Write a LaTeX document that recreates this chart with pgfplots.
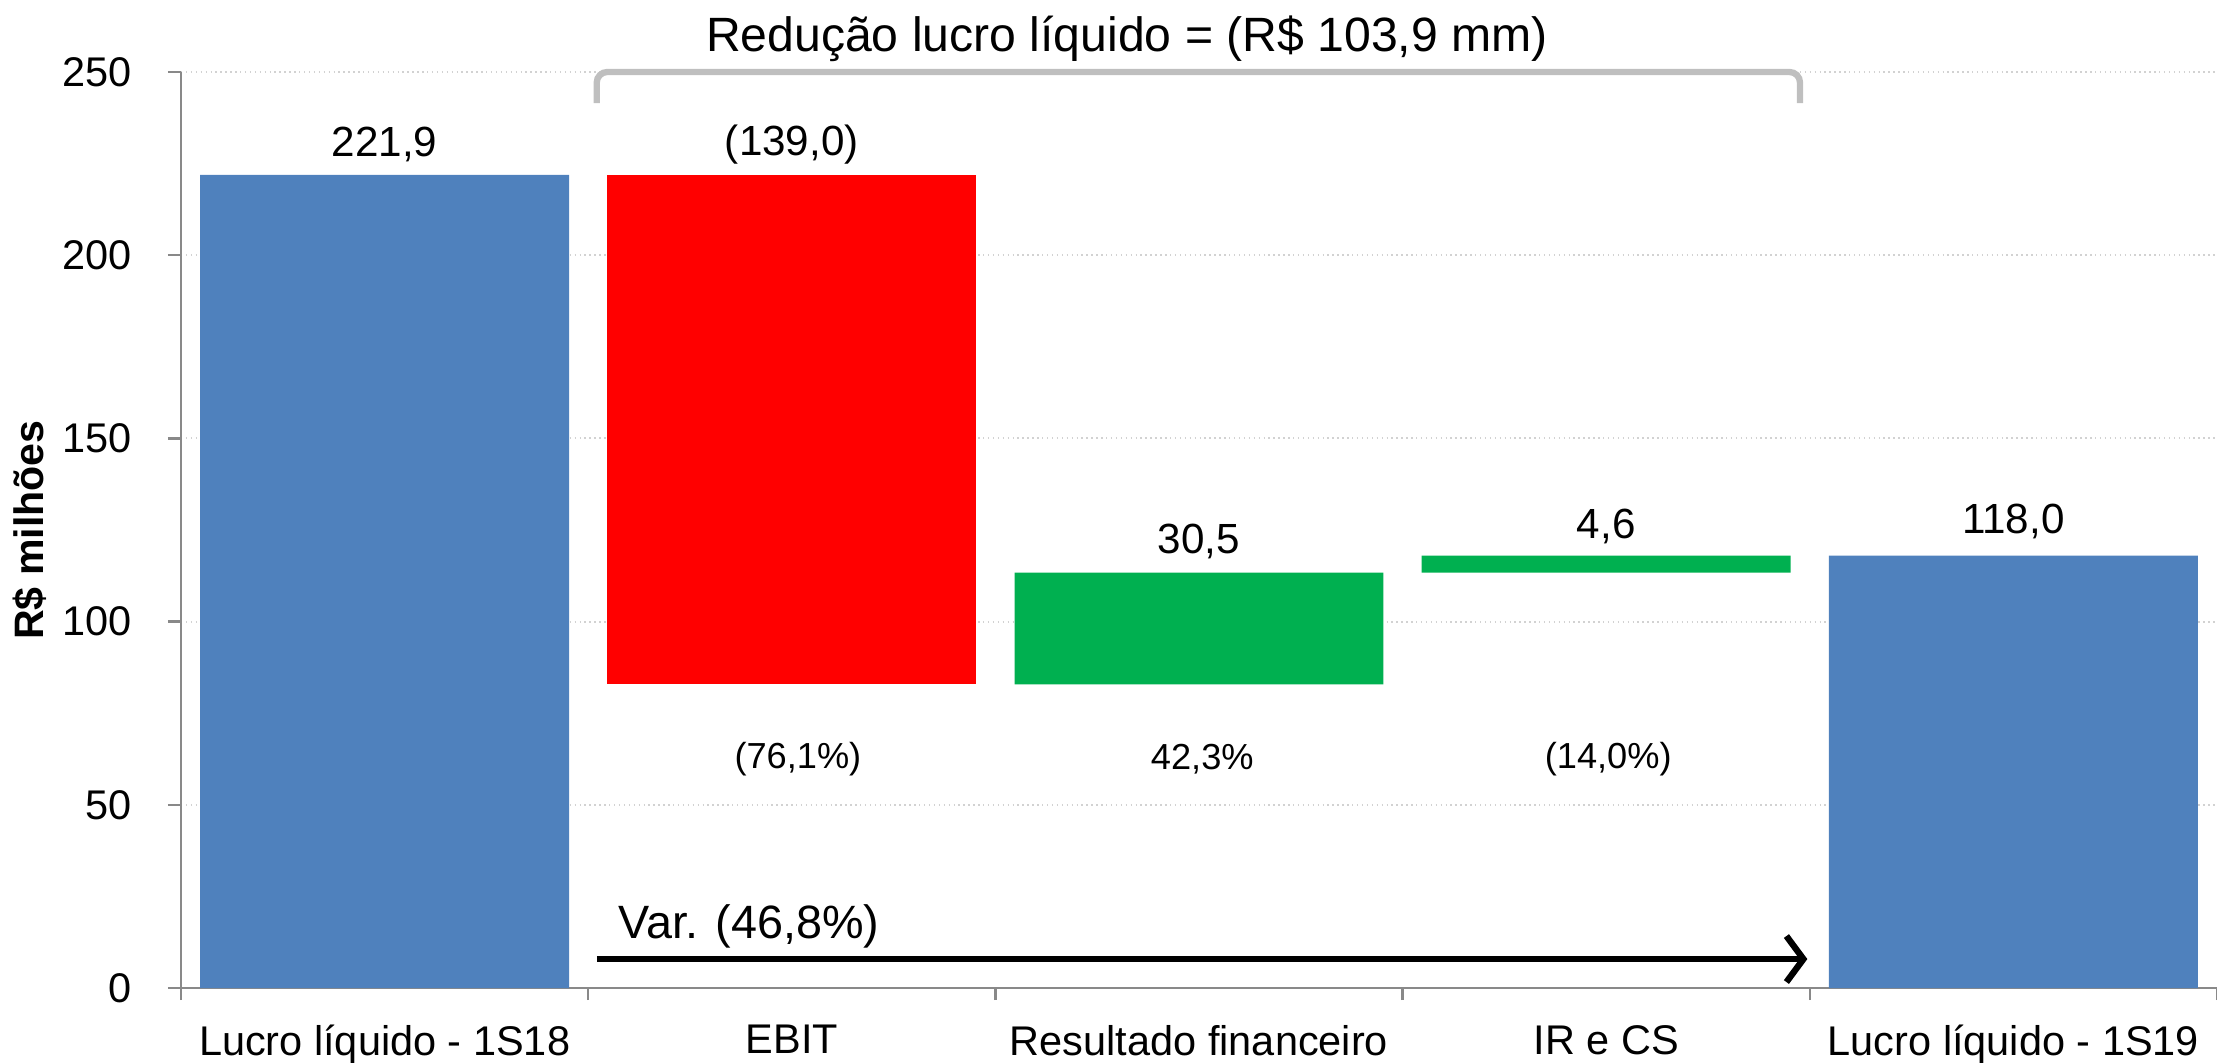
\documentclass[border=0pt]{standalone}
\usepackage{fontspec}
\setmainfont{Liberation Sans}
\usepackage{pgfplots}
\pgfplotsset{compat=1.18}
\usetikzlibrary{arrows.meta, calc}
\definecolor{barBlue}{HTML}{4F81BD}
\definecolor{barRed}{HTML}{FF0000}
\definecolor{barGreen}{HTML}{00B050}
\definecolor{axisGray}{HTML}{898989}
\definecolor{braceGray}{HTML}{BFBFBF}
\tikzset{
  vallab/.style={font=\fontsize{12}{14}\selectfont},
  pctlab/.style={font=\fontsize{10.3}{12}\selectfont},
}

\begin{document}
\begin{tikzpicture}
\begin{axis}[
  scale only axis,
  width=20.36cm, height=9.16cm,
  ybar stacked, bar width=0.906,
  xmin=-0.5, xmax=4.5, ymin=0, ymax=250,
  xtick={0,...,4},
  xticklabels={Lucro líquido - 1S18, EBIT, Resultado financeiro, IR e CS, Lucro líquido - 1S19},
  minor xtick={-0.5,0.5,...,4.5},
  ytick={0,50,...,250},
  axis x line*=bottom, axis y line*=left,
  axis line style={draw=axisGray, line width=0.7pt, -},
  tick align=outside,
  major tick length=0.13cm, minor tick length=0.12cm,
  every major x tick/.append style={draw=none},
  every minor x tick/.append style={draw=axisGray, line width=0.7pt},
  every major y tick/.append style={draw=axisGray, line width=0.7pt},
  ymajorgrids, grid style={densely dotted, gray!35, line width=0.6pt},
  clip=false,
  /pgf/number format/assume math mode=true,
  tick label style={font=\fontsize{11.8}{14}\selectfont},
  yticklabel style={xshift=-0.24cm},
  xticklabel style={yshift=-0.12cm},
  ylabel={\bfseries R\$ milhões},
  ylabel style={font=\fontsize{11.7}{14}\selectfont, at={(rel axis cs:0,0.5)}, yshift=1.51cm, anchor=center},
]
% invisible base of the floating bars
\addplot[fill=none, draw=none] coordinates {(0,0) (1,82.9) (2,82.9) (3,113.4) (4,0)};
\addplot[fill=barBlue, draw=none] coordinates {(0,221.9) (1,0) (2,0) (3,0) (4,118.0)};
\addplot[fill=barRed, draw=none] coordinates {(0,0) (1,139.0) (2,0) (3,0) (4,0)};
\addplot[fill=barGreen, draw=none] coordinates {(0,0) (1,0) (2,30.5) (3,4.6) (4,0)};

\coordinate (sw) at (rel axis cs:0,0);
\coordinate (ne) at (rel axis cs:1,1);

\node[vallab] at (axis cs:0,230.3) {221,9};
\node[vallab] at (axis cs:1,230.3) {(139,0)};
\node[vallab] at (axis cs:2,121.9) {30,5};
\node[vallab] at (axis cs:3,126.1) {4,6};
\node[vallab] at (axis cs:4,127.3) {118,0};
\node[pctlab] at (axis cs:1.015,62.5) {(76,1\%)};
\node[pctlab] at (axis cs:2.008,62.5) {42,3\%};
\node[pctlab] at (axis cs:3.005,62.5) {(14,0\%)};

\draw[braceGray, line width=1.8pt, rounded corners=3pt]
  (axis cs:0.521,241.5) -- (axis cs:0.521,250) -- (axis cs:3.476,250) -- (axis cs:3.476,241.5);
\node[font=\fontsize{13.7}{16}\selectfont] at (axis cs:1.823,259.2) {Redução lucro líquido = (R\$ 103,9 mm)};

\draw[black, line width=1.8pt, -{Straight Barb[length=1.7mm, width=4.6mm]}]
  (axis cs:0.521,7.9) -- (axis cs:3.494,7.9);
\node[anchor=base west, inner sep=0pt, font=\fontsize{13.3}{16}\selectfont] at (axis cs:0.573,13.6) {Var. (46,8\%)};
\end{axis}
\pgfresetboundingbox
\path[use as bounding box] ($(sw)+(-1.81cm,-0.74cm)$) rectangle ($(ne)+(0,0.72cm)$);
\end{tikzpicture}
\end{document}
